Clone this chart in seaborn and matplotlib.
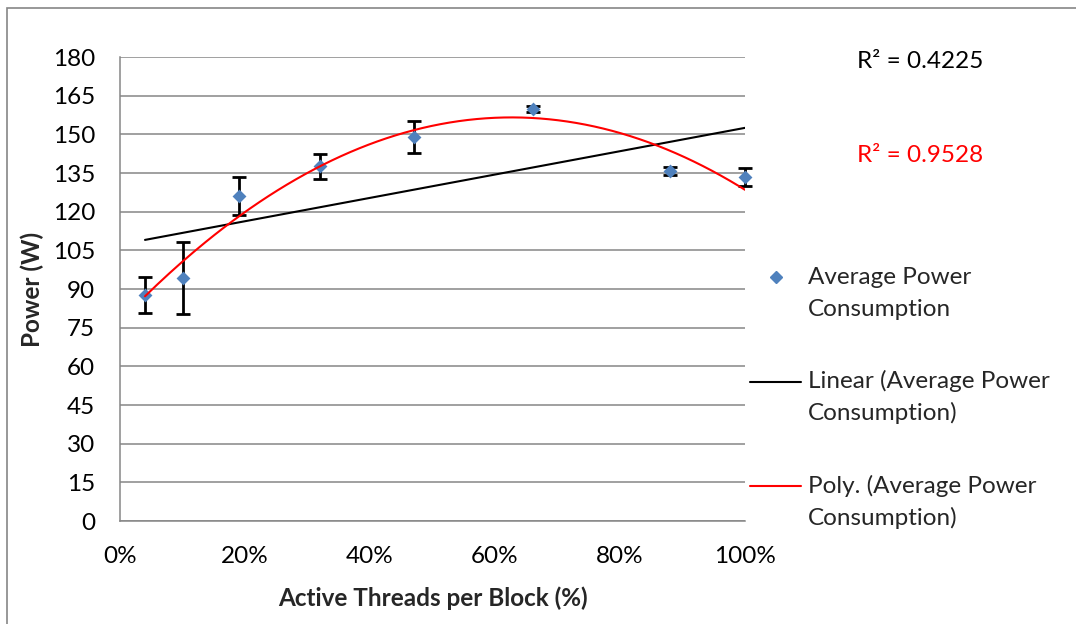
import matplotlib
matplotlib.use("Agg")
import matplotlib.pyplot as plt
import numpy as np
import pandas as pd
import seaborn as sns
from matplotlib.lines import Line2D
from matplotlib.patches import Rectangle
from matplotlib.ticker import FuncFormatter

# values
active_pct = [4, 10, 19, 32, 47, 66, 88, 100]
power_avg = [87.5, 94.3, 126.1, 137.7, 149.0, 159.8, 135.9, 133.3]
power_min = [80.7, 80.3, 118.7, 132.5, 142.9, 158.8, 134.2, 129.9]
power_max = [94.6, 108.3, 133.6, 142.2, 155.0, 160.8, 137.5, 136.8]
r2_linear = "R² = 0.4225"
r2_poly = "R² = 0.9528"
y_ticks = list(range(0, 181, 15))
x_ticks = list(range(0, 101, 20))

df = pd.DataFrame({"pct": active_pct, "power": power_avg,
                   "lo": power_min, "hi": power_max})

sns.set_style("white")
plt.rcParams["font.family"] = ["Lato", "DejaVu Sans"]

BLUE = "#4F81BD"
GRID = "#868686"
FS = 17.5

fig = plt.figure(figsize=(10.76, 6.24), dpi=100)
ax = fig.add_axes([120 / 1076, 1 - 521 / 624, 625 / 1076, 464 / 624])

# error bars
yerr = [df["power"] - df["lo"], df["hi"] - df["power"]]
ax.errorbar(df["pct"], df["power"], yerr=yerr, fmt="none", ecolor="black",
            elinewidth=2, capsize=5, capthick=2, zorder=3, clip_on=False)

# data points
sns.scatterplot(data=df, x="pct", y="power", marker="D", color=BLUE, s=50,
                edgecolor=BLUE, linewidth=0, ax=ax, zorder=4, clip_on=False)

# trend lines (fitted like excel does)
xs = np.linspace(min(active_pct), max(active_pct), 200)
lin = np.polyfit(df["pct"], df["power"], 1)
poly = np.polyfit(df["pct"], df["power"], 2)
sns.lineplot(x=xs, y=np.polyval(lin, xs), color="black", linewidth=1.5, ax=ax, zorder=5)
sns.lineplot(x=xs, y=np.polyval(poly, xs), color="#FF0000", linewidth=1.5, ax=ax, zorder=5)

ax.set_xlim(0, 100)
ax.set_ylim(0, 180)
ax.set_yticks(y_ticks)
ax.set_xticks(x_ticks)
ax.xaxis.set_major_formatter(FuncFormatter(lambda v, p: f"{v:.0f}%"))
ax.yaxis.grid(True, color=GRID, linewidth=1.1)
ax.xaxis.grid(False)
ax.set_axisbelow(True)
ax.tick_params(axis="both", length=0, labelsize=FS, colors="black")
ax.tick_params(axis="y", pad=18)
ax.tick_params(axis="x", pad=18)
for side in ["top", "right"]:
    ax.spines[side].set_visible(False)
for side in ["left", "bottom"]:
    ax.spines[side].set_color(GRID)
    ax.spines[side].set_linewidth(1.1)

ax.set_xlabel("Active Threads per Block (%)", fontsize=FS, fontweight="bold", labelpad=14)
ax.set_ylabel("Power (W)", fontsize=FS, fontweight="bold", labelpad=6)

# R² labels
fig.text(920 / 1076, 1 - 62 / 624, r2_linear, fontsize=FS, color="black",
         ha="center", va="center")
fig.text(920 / 1076, 1 - 155 / 624, r2_poly, fontsize=FS, color="#FF0000",
         ha="center", va="center")

# legend drawn by hand so handles line up with the first text line
def fy(py):
    return 1 - py / 624

fig.add_artist(Line2D([776 / 1076], [fy(277)], marker="D", color=BLUE,
                      markersize=6, linestyle="none", transform=fig.transFigure))
fig.add_artist(Line2D([750 / 1076, 801 / 1076], [fy(382), fy(382)], color="black",
                      linewidth=1.5, transform=fig.transFigure))
fig.add_artist(Line2D([750 / 1076, 801 / 1076], [fy(486), fy(486)], color="#FF0000",
                      linewidth=1.5, transform=fig.transFigure))
legend_rows = [(277, "Average Power"), (309, "Consumption"),
               (381, "Linear (Average Power"), (413, "Consumption)"),
               (486, "Poly. (Average Power"), (518, "Consumption)")]
for py, txt in legend_rows:
    fig.text(808 / 1076, fy(py), txt, fontsize=FS, ha="left", va="center")

# chart area border (only left and top edges are visible in the crop)
fig.add_artist(Rectangle((7 / 1076, -0.1), 1.2, 1 - 8 / 624 + 0.1, fill=False,
                         edgecolor=GRID, linewidth=1.2, transform=fig.transFigure))

fig.savefig("out.png", dpi=100)
